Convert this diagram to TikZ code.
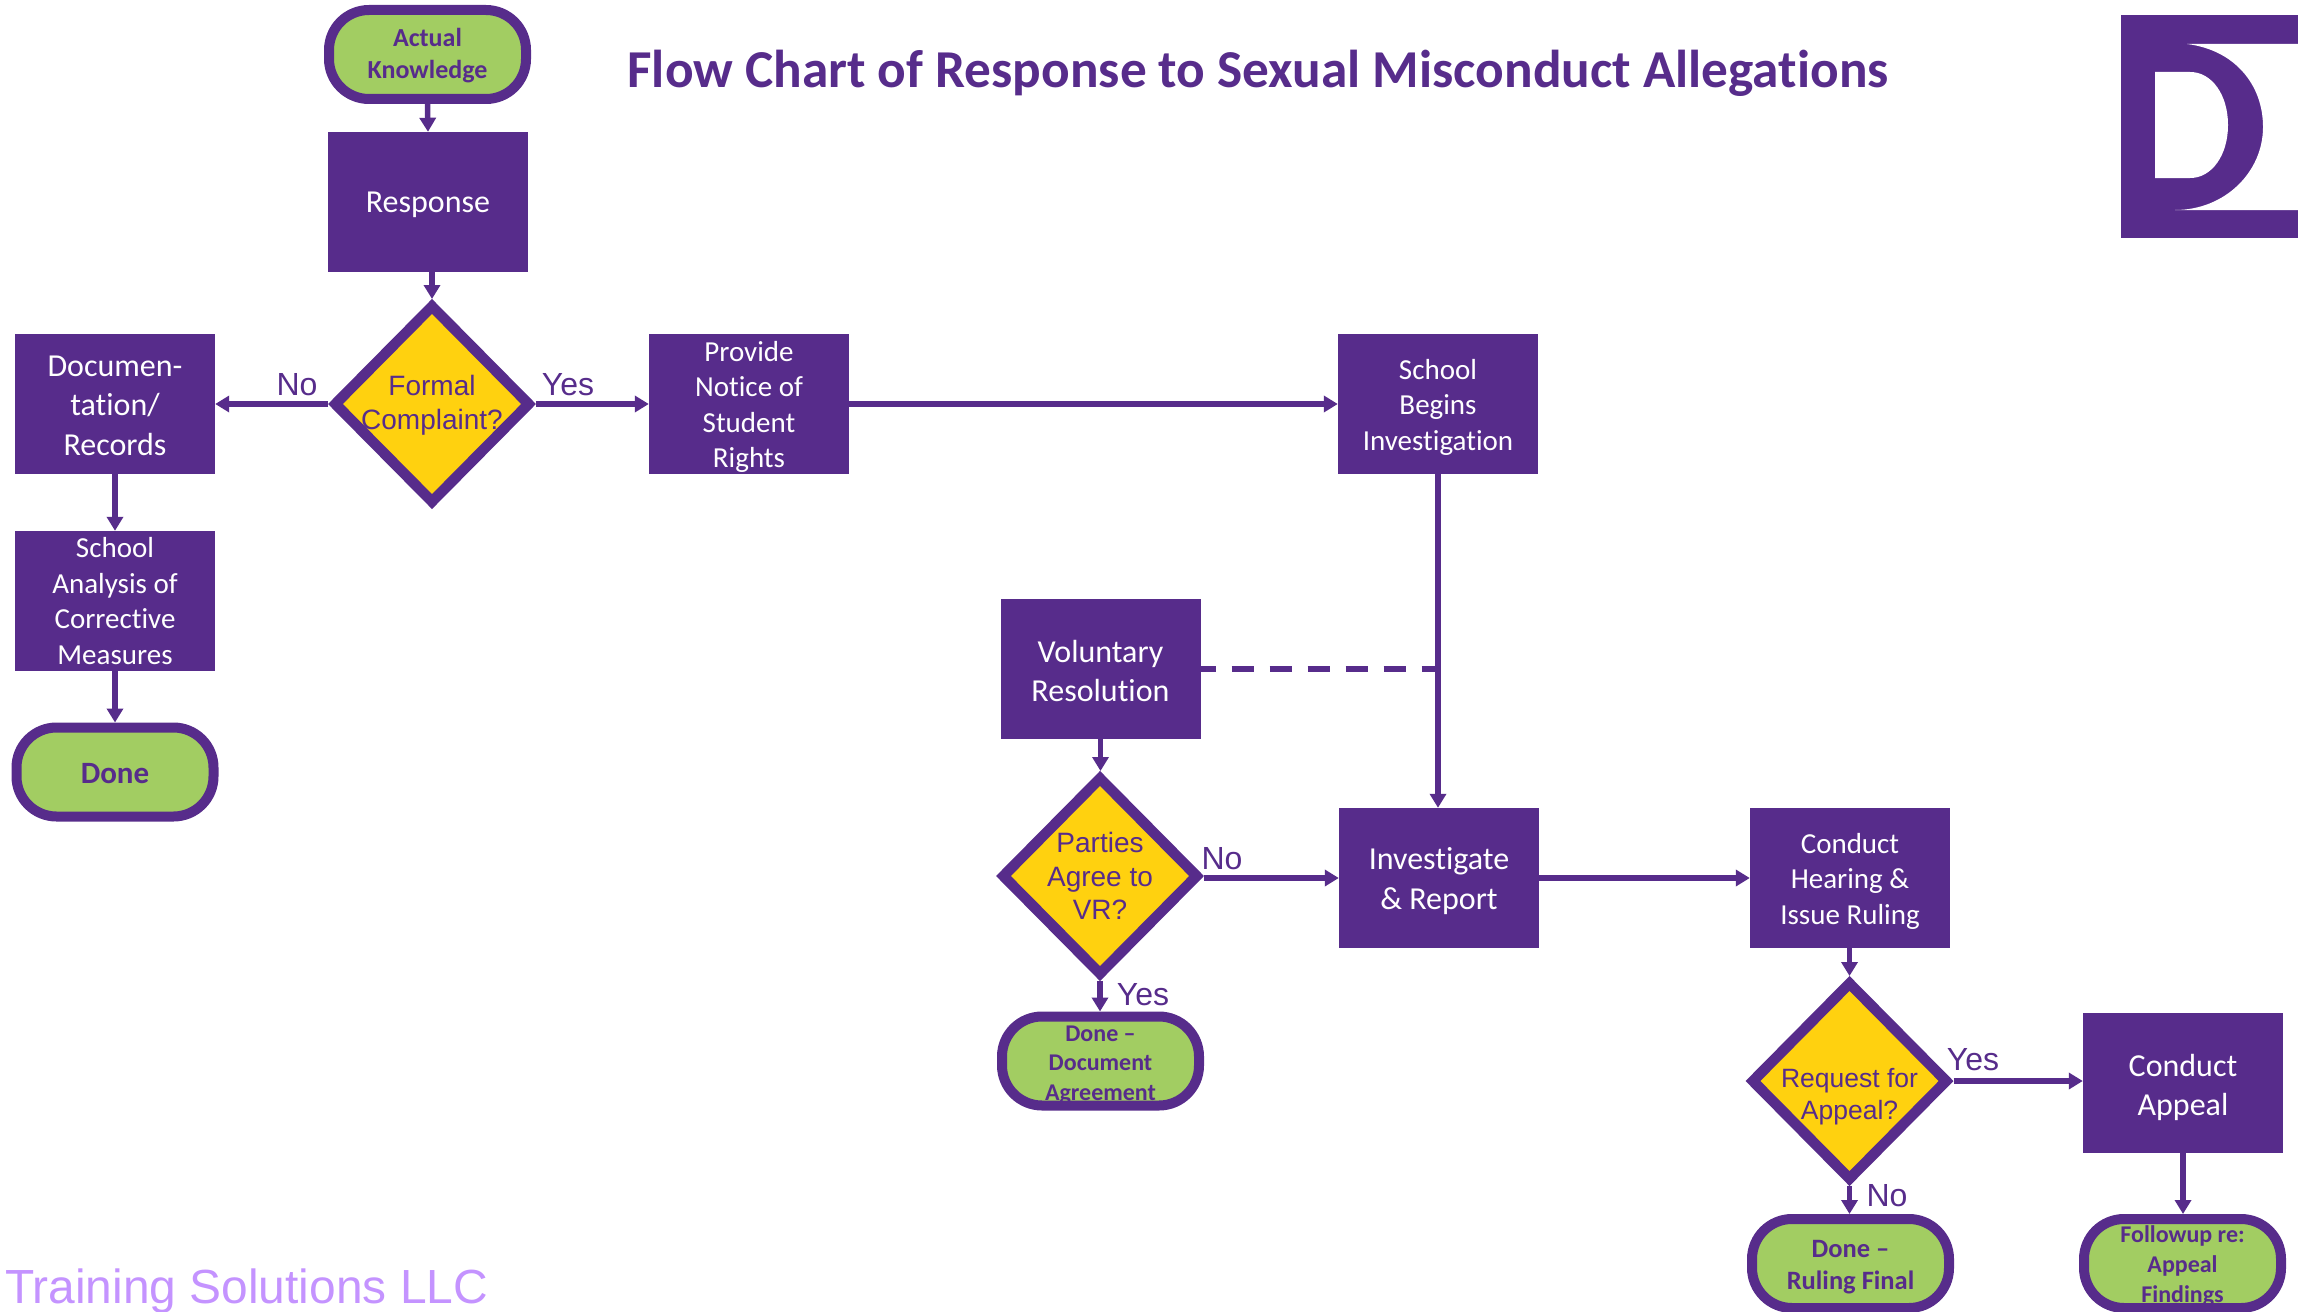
\documentclass[tikz,border=0pt]{standalone}
\usepackage{fontspec}
\setmainfont[Ligatures=CommonOff]{Carlito}
\newfontfamily\arialf{Liberation Sans}
\usetikzlibrary{shapes.geometric,arrows.meta,calc}
\definecolor{pur}{HTML}{572C8B}
\definecolor{grn}{HTML}{A2CD62}
\definecolor{ylw}{HTML}{FFD10F}
\definecolor{lilac}{HTML}{C493FF}
\newcommand{\fs}[2]{\fontsize{#1}{#2}\selectfont}
\newcommand{\dn}[1]{\rule{0pt}{#1pt}}
\tikzset{
  procbox/.style={rectangle,fill=pur,text=white,minimum width=200pt,minimum height=140pt,inner sep=0pt,align=center,font=\fs{29}{35.5}},
  bigbox/.style={procbox,font=\fs{32}{39.5}},
  term/.style={rectangle,rounded corners=40pt,draw=pur,line width=10pt,fill=grn,text=pur,minimum width=197pt,minimum height=89pt,inner xsep=0pt,inner ysep=-14pt,align=center},
  decide/.style={diamond,aspect=1,draw=pur,line width=10.5pt,fill=ylw,text=pur,minimum width=197.5pt,minimum height=199.5pt,inner sep=-34pt,align=center,font=\arialf\fs{28}{33.5}},
  flow/.style={draw=pur,line width=5.5pt,-{Triangle[length=14pt,width=16pt]}},
  lbl/.style={text=pur,inner sep=0pt,font=\arialf\fs{32}{32}}
}
\begin{document}
\begin{tikzpicture}[x=1pt,y=-1pt]
\useasboundingbox (0,0) rectangle (2298,1311);
% logo
\fill[pur] (2121,15) rectangle (2298,238);
\fill[white] (2187,44) -- (2298,44) -- (2298,210) -- (2175,210) .. controls (2225,210) and (2263,172) .. (2263,127) .. controls (2263,85) and (2235,50) .. (2187,44) -- cycle;
\fill[white] (2155,72) -- (2190,72) .. controls (2212,72) and (2228,95) .. (2228,125) .. controls (2228,155) and (2212,178) .. (2190,178) -- (2155,178) -- cycle;
% title and footer
\node[text=pur,inner sep=0pt,font=\bfseries\fs{53.3}{53.3}] (title) at (1258,73) {Flow Chart of Response to Sexual Misconduct Allegations};
\node[text=lilac,inner sep=0pt,anchor=base west,font=\arialf\fs{47.9}{47.9}] (footer) at (5,1303) {Training Solutions LLC};
% nodes
\node[term,font=\bfseries\fs{26}{32}] (actual) at (427.5,54.5) {\dn{21.2}Actual\\Knowledge};
\node[bigbox] (response) at (428,202) {\dn{27}Response};
\node[decide] (formal) at (432,404) {\dn{22.4}Formal\\Complaint?};
\node[bigbox] (doc) at (115,404) {\dn{24}Documen-\\tation/\\Records};
\node[procbox] (notice) at (749,404) {\dn{26}Provide\\Notice of\\Student\\Rights};
\node[procbox] (begins) at (1438,404) {\dn{26}School\\Begins\\Investigation};
\node[procbox] (analysis) at (115,601) {School\\Analysis of\\Corrective\\Measures};
\node[term,font=\bfseries\fs{31}{31}] (done) at (115,772) {\dn{24}Done};
\node[bigbox] (vol) at (1100.5,669) {\dn{26}Voluntary\\Resolution};
\node[decide] (vr) at (1100,876) {Parties\\Agree to\\VR?};
\node[term,font=\bfseries\fs{24}{29.5}] (donedoc) at (1100.5,1061) {\dn{24}Done --\\Document\\Agreement};
\node[bigbox,font=\fs{32}{40.5}] (invest) at (1439,878) {\dn{28}Investigate\\\& Report};
\node[procbox] (hearing) at (1850,878) {\dn{26}Conduct\\Hearing \&\\Issue Ruling};
\node[decide,font=\arialf\fs{26.5}{32}] (appeal) at (1849.5,1081) {\dn{51.3}Request for\\Appeal?};
\node[bigbox] (capp) at (2183,1083) {\dn{31}Conduct\\Appeal};
\node[term,font=\bfseries\fs{26.5}{32}] (doneruling) at (1850.5,1263.5) {\dn{24.5}Done --\\Ruling Final};
\node[term,font=\bfseries\fs{24}{30}] (follow) at (2182.5,1263.5) {\dn{22.8}Followup re:\\Appeal\\Findings};
% labels
\node[lbl] (noa) at (297,385) {No};
\node[lbl] (yesa) at (568,385) {Yes};
\node[lbl] (nob) at (1222,859) {No};
\node[lbl] (yesb) at (1143,995) {Yes};
\node[lbl] (yesc) at (1973,1060) {Yes};
\node[lbl] (noc) at (1887,1196) {No};
% connectors
\coordinate (vrjoin) at (1438,669);
\draw[flow] (actual.south) -- (response.north);
\draw[flow] (response.south -| formal.north) -- (formal.north);
\draw[flow] (formal.west) -- (doc.east |- formal.west);
\draw[flow] (formal.east) -- (notice.west |- formal.east);
\draw[flow] (doc.south) -- (analysis.north);
\draw[flow] (analysis.south) -- (done.north);
\draw[flow] (notice.east) -- (begins.west);
\draw[flow] (begins.south) -- (invest.north -| begins.south);
\draw[draw=pur,line width=5.5pt,dash pattern=on 22pt off 16pt,dash phase=7pt] (vol.east) -- (vrjoin);
\draw[flow] (vol.south) -- (vr.north -| vol.south);
\draw[flow] (vr.east |- invest.west) -- (invest.west);
\draw[flow] (vr.south) -- (donedoc.north -| vr.south);
\draw[flow] (invest.east) -- (hearing.west);
\draw[flow] (hearing.south -| appeal.north) -- (appeal.north);
\draw[flow] (appeal.east) -- (capp.west |- appeal.east);
\draw[flow] (appeal.south) -- (doneruling.north -| appeal.south);
\draw[flow] (capp.south) -- (follow.north -| capp.south);
\end{tikzpicture}
\end{document}
